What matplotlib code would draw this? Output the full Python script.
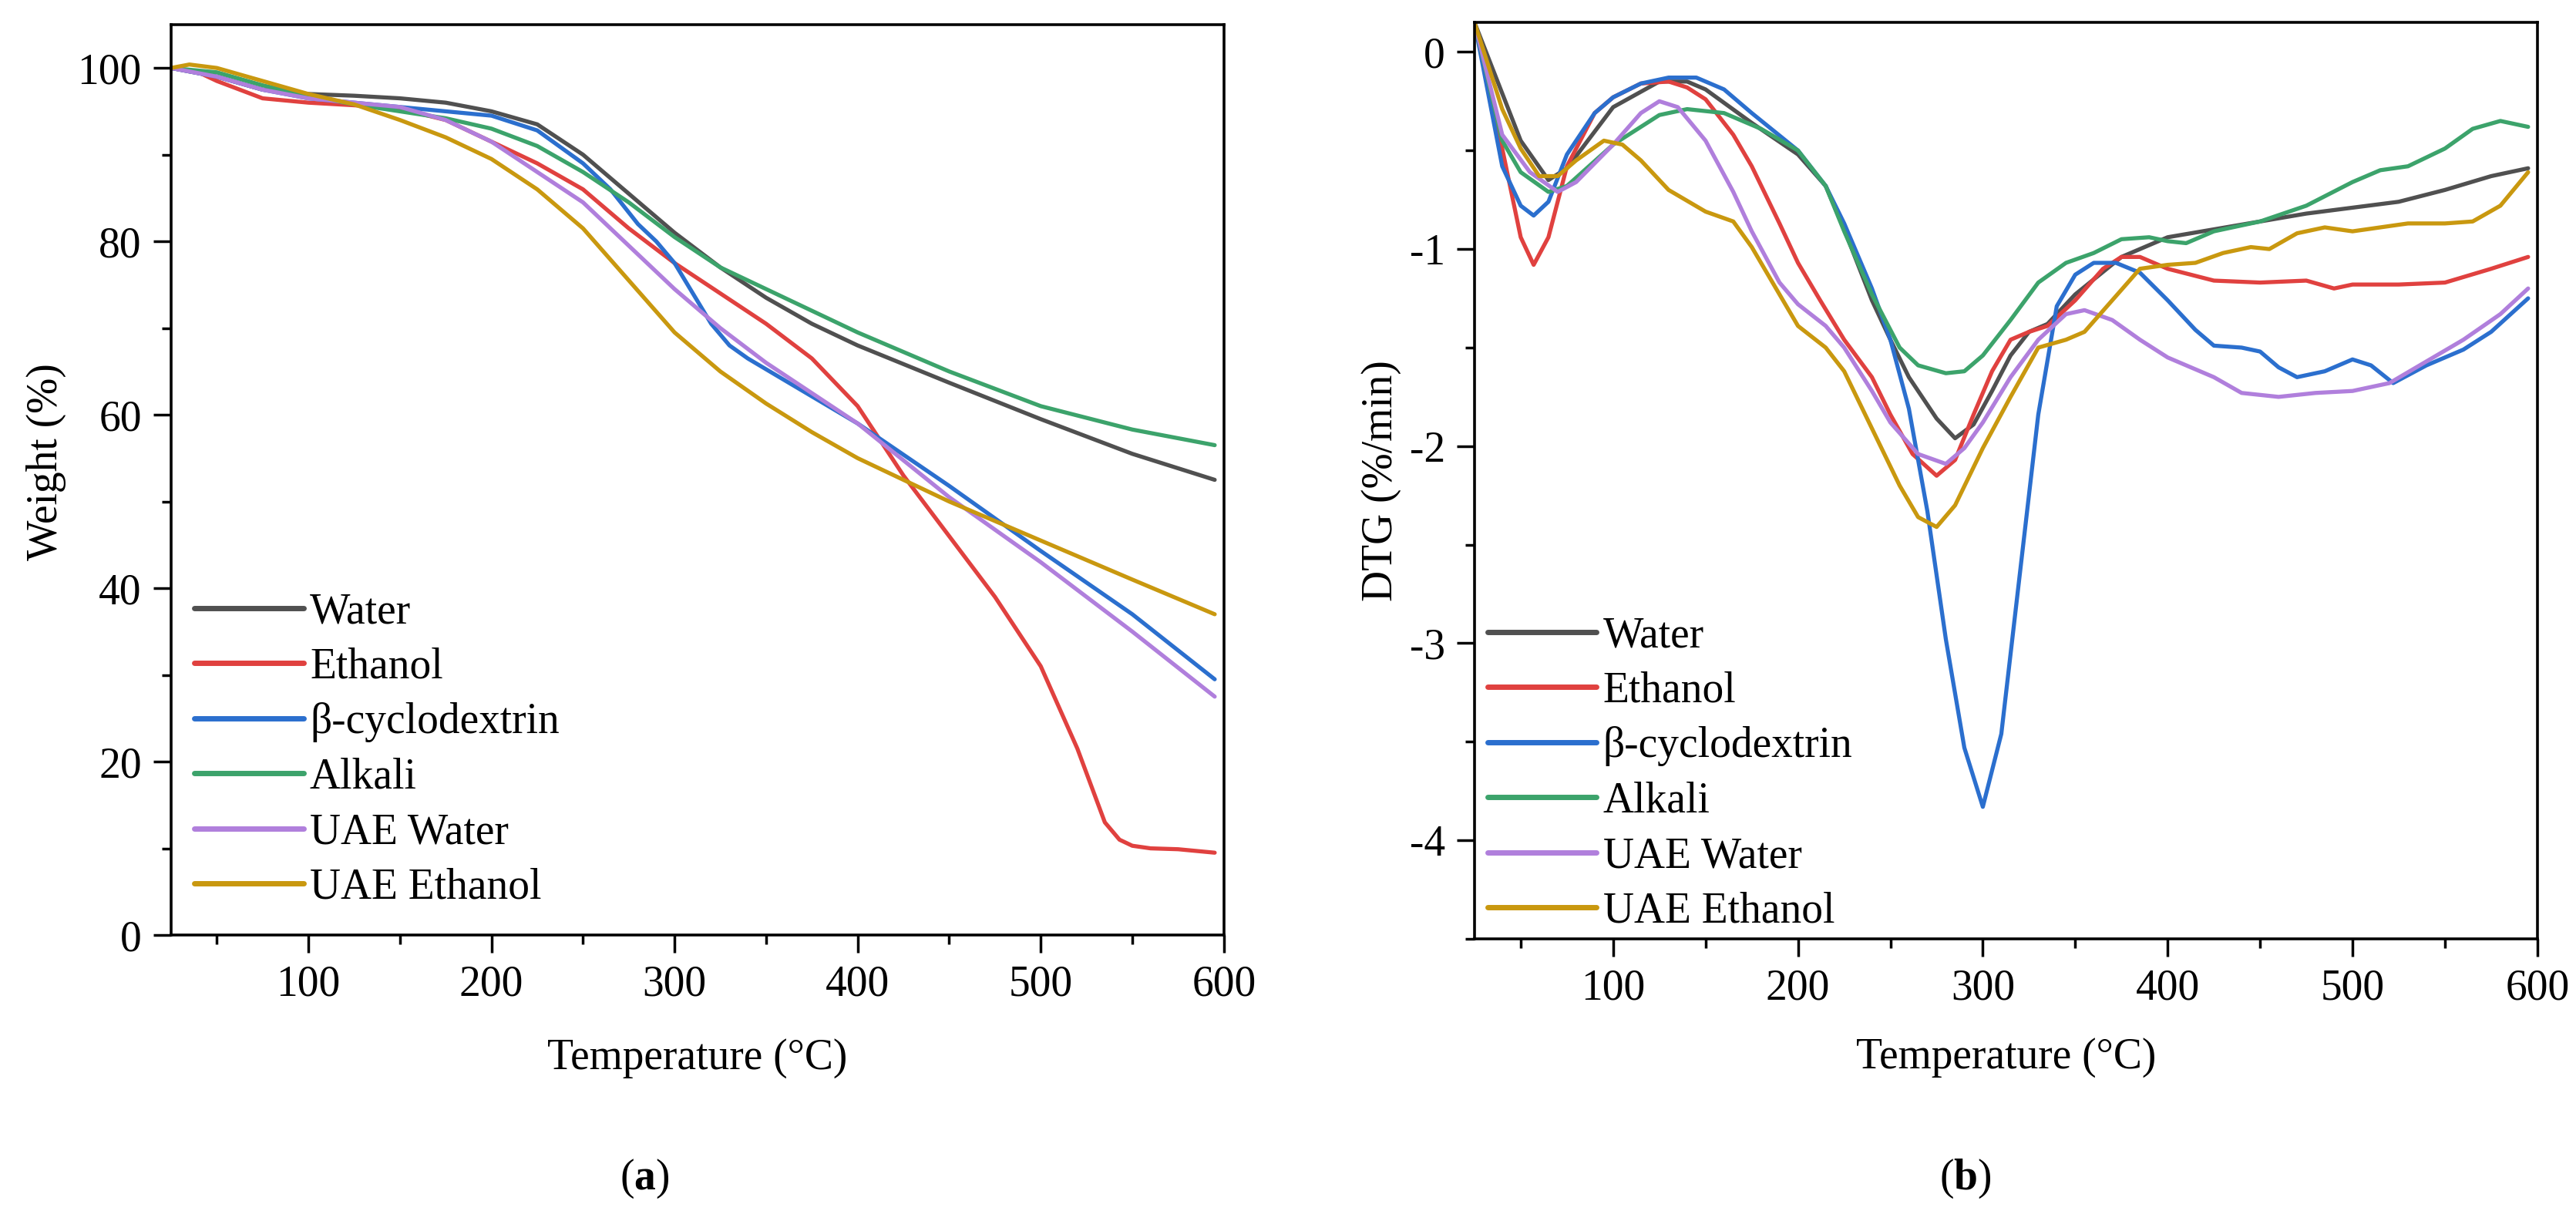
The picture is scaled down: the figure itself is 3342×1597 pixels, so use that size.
import matplotlib
matplotlib.use("Agg")
import matplotlib.pyplot as plt
from matplotlib.ticker import MultipleLocator

plt.rcParams['font.family'] = ['Liberation Serif', 'DejaVu Serif']
plt.rcParams['mathtext.fontset'] = 'custom'
plt.rcParams['mathtext.rm'] = 'Liberation Serif'
plt.rcParams['mathtext.bf'] = 'Liberation Serif:bold'
plt.rcParams['axes.unicode_minus'] = False

# series names and colours
names = ['Water', 'Ethanol', 'β-cyclodextrin', 'Alkali', 'UAE Water', 'UAE Ethanol']
colors = ['#505050', '#e0413f', '#2b6fce', '#3ca36b', '#b07fdc', '#c9980f']

# (a) TGA weight (%)
t_water = [25, 50, 75, 100, 125, 150, 175, 200, 225, 250, 275, 300, 325, 350, 375, 400, 450, 500, 550, 595]
w_water = [100, 99, 97.5, 97, 96.8, 96.5, 96, 95, 93.5, 90, 85.5, 81, 77, 73.5, 70.5, 68, 63.7, 59.5, 55.5, 52.5]

t_eth = [25, 40, 50, 75, 100, 125, 150, 175, 200, 225, 250, 275, 300, 325, 350, 375, 400, 425, 450, 475, 500,
         520, 535, 543, 550, 560, 575, 595]
w_eth = [100, 99.5, 98.5, 96.5, 96, 95.7, 95.3, 94, 91.5, 89, 86, 81.5, 77.5, 74, 70.5, 66.5, 61, 53, 46, 39, 31,
         21.5, 13, 11, 10.3, 10, 9.9, 9.5]

t_cd = [25, 50, 75, 100, 125, 150, 175, 200, 225, 250, 265, 280, 290, 300, 310, 320, 330, 340, 360, 380, 400,
        450, 500, 550, 595]
w_cd = [100, 99, 97.5, 96.5, 96, 95.5, 95, 94.5, 92.8, 89, 86, 82, 80, 77.5, 74, 70.5, 68, 66.5, 64, 61.5, 59,
        51.8, 44.3, 37, 29.5]

t_alk = [25, 50, 75, 100, 125, 150, 175, 200, 225, 250, 275, 300, 325, 350, 375, 400, 450, 500, 550, 595]
w_alk = [100, 99.5, 98, 96.8, 95.8, 95, 94.2, 93, 91, 88, 84.5, 80.5, 77, 74.5, 72, 69.5, 65, 61, 58.3, 56.5]

t_uw = [25, 50, 75, 100, 125, 150, 175, 200, 225, 250, 275, 300, 325, 350, 375, 400, 450, 500, 550, 595]
w_uw = [100, 99, 97.5, 96.5, 96, 95.5, 94, 91.5, 88, 84.5, 79.5, 74.5, 70, 66, 62.5, 59, 50.5, 43, 35, 27.5]

t_ue = [25, 35, 50, 75, 100, 125, 150, 175, 200, 225, 250, 275, 300, 325, 350, 375, 400, 450, 500, 550, 595]
w_ue = [100, 100.4, 100, 98.5, 97, 95.8, 94, 92, 89.5, 86, 81.5, 75.5, 69.5, 65, 61.3, 58, 55, 50, 45.5, 41, 37]

# (b) DTG (%/min)
d_t_water = [25, 50, 65, 75, 100, 125, 140, 150, 175, 200, 215, 225, 240, 250, 260, 275, 285, 295, 305, 315,
             325, 335, 350, 375, 400, 425, 450, 475, 500, 525, 550, 575, 595]
d_water = [0.15, -0.45, -0.65, -0.59, -0.28, -0.15, -0.15, -0.19, -0.36, -0.52, -0.68, -0.9, -1.26, -1.46, -1.65,
           -1.86, -1.96, -1.89, -1.72, -1.54, -1.42, -1.38, -1.23, -1.04, -0.94, -0.9, -0.86, -0.82, -0.79, -0.76,
           -0.7, -0.63, -0.59]

d_t_eth = [25, 40, 50, 57, 65, 75, 90, 100, 115, 130, 140, 150, 165, 175, 190, 200, 212, 225, 240, 250, 262, 275,
           285, 295, 305, 315, 325, 335, 350, 365, 375, 385, 400, 425, 450, 475, 490, 500, 525, 550, 575, 595]
d_eth = [0.15, -0.49, -0.94, -1.08, -0.94, -0.58, -0.31, -0.23, -0.16, -0.15, -0.18, -0.24, -0.42, -0.58, -0.87,
         -1.07, -1.26, -1.46, -1.65, -1.84, -2.04, -2.15, -2.07, -1.84, -1.62, -1.46, -1.42, -1.39, -1.26, -1.1,
         -1.04, -1.04, -1.1, -1.16, -1.17, -1.16, -1.2, -1.18, -1.18, -1.17, -1.1, -1.04]

d_t_cd = [25, 40, 50, 57, 65, 75, 90, 100, 115, 130, 145, 160, 175, 200, 215, 225, 240, 250, 260, 270, 280, 290,
          300, 310, 320, 330, 340, 350, 360, 372, 385, 400, 415, 425, 440, 450, 460, 470, 485, 500, 510, 522, 540,
          560, 575, 595]
d_cd = [0.15, -0.58, -0.78, -0.83, -0.76, -0.52, -0.31, -0.23, -0.16, -0.13, -0.13, -0.19, -0.31, -0.5, -0.68,
        -0.87, -1.2, -1.46, -1.81, -2.33, -2.98, -3.53, -3.83, -3.46, -2.65, -1.84, -1.29, -1.13, -1.07, -1.07,
        -1.12, -1.26, -1.41, -1.49, -1.5, -1.52, -1.6, -1.65, -1.62, -1.56, -1.59, -1.68, -1.59, -1.51, -1.42,
        -1.25]

d_t_alk = [25, 40, 50, 65, 75, 100, 125, 140, 160, 180, 200, 215, 225, 240, 255, 265, 280, 290, 300, 315, 330,
           345, 360, 375, 390, 400, 410, 425, 450, 475, 500, 515, 530, 550, 565, 580, 595]
d_alk = [0.15, -0.45, -0.61, -0.71, -0.68, -0.47, -0.32, -0.29, -0.31, -0.39, -0.5, -0.68, -0.91, -1.23, -1.5,
         -1.59, -1.63, -1.62, -1.54, -1.36, -1.17, -1.07, -1.02, -0.95, -0.94, -0.96, -0.97, -0.91, -0.86, -0.78,
         -0.66, -0.6, -0.58, -0.49, -0.39, -0.35, -0.38]

d_t_uw = [25, 40, 55, 70, 80, 100, 115, 125, 135, 150, 165, 175, 190, 200, 215, 225, 240, 250, 265, 280, 290,
          300, 315, 330, 345, 355, 370, 385, 400, 425, 440, 460, 480, 500, 520, 540, 560, 580, 595]
d_uw = [0.15, -0.42, -0.61, -0.71, -0.66, -0.47, -0.31, -0.25, -0.28, -0.45, -0.71, -0.91, -1.17, -1.28, -1.39,
        -1.5, -1.72, -1.88, -2.04, -2.09, -2.01, -1.88, -1.65, -1.46, -1.33, -1.31, -1.36, -1.46, -1.55, -1.65,
        -1.73, -1.75, -1.73, -1.72, -1.68, -1.57, -1.46, -1.33, -1.2]

d_t_ue = [25, 40, 50, 60, 70, 80, 95, 105, 115, 130, 150, 165, 175, 190, 200, 215, 225, 240, 255, 265, 275, 285,
          300, 315, 330, 345, 355, 370, 385, 400, 415, 430, 445, 455, 470, 485, 500, 515, 530, 550, 565, 580, 595]
d_ue = [0.15, -0.29, -0.49, -0.63, -0.63, -0.55, -0.45, -0.47, -0.55, -0.7, -0.81, -0.86, -0.99, -1.23, -1.39,
        -1.5, -1.62, -1.91, -2.2, -2.36, -2.41, -2.3, -2.01, -1.75, -1.5, -1.46, -1.42, -1.26, -1.1, -1.08, -1.07,
        -1.02, -0.99, -1.0, -0.92, -0.89, -0.91, -0.89, -0.87, -0.87, -0.86, -0.78, -0.61]

tga = [(t_water, w_water), (t_eth, w_eth), (t_cd, w_cd), (t_alk, w_alk), (t_uw, w_uw), (t_ue, w_ue)]
dtg = [(d_t_water, d_water), (d_t_eth, d_eth), (d_t_cd, d_cd), (d_t_alk, d_alk), (d_t_uw, d_uw), (d_t_ue, d_ue)]

FS = 40
fig = plt.figure(figsize=(33.42, 15.97), dpi=100)
ax1 = fig.add_axes([0.0664, 0.2404, 0.4087, 0.7396])
ax2 = fig.add_axes([0.5724, 0.2373, 0.4126, 0.7445])

for (x, y), c, n in zip(tga, colors, names):
    ax1.plot(x, y, color=c, lw=3.8, label=n, solid_joinstyle='round', solid_capstyle='round')
for (x, y), c, n in zip(dtg, colors, names):
    ax2.plot(x, y, color=c, lw=3.8, label=n, solid_joinstyle='round', solid_capstyle='round')

ax1.set_xlim(25, 600)
ax1.set_ylim(0, 105)
ax1.yaxis.set_major_locator(MultipleLocator(20))
ax1.yaxis.set_minor_locator(MultipleLocator(10))
ax1.set_ylabel('Weight (%)', fontsize=FS)

ax2.set_xlim(25, 600)
ax2.set_ylim(-4.5, 0.15)
ax2.yaxis.set_major_locator(MultipleLocator(1))
ax2.yaxis.set_minor_locator(MultipleLocator(0.5))
ax2.set_ylabel('DTG (%/min)', fontsize=FS)

for ax in (ax1, ax2):
    ax.xaxis.set_major_locator(MultipleLocator(100))
    ax.xaxis.set_minor_locator(MultipleLocator(50))
    ax.set_xlabel('Temperature (°C)', fontsize=FS)
    ax.tick_params(which='both', direction='out', top=False, right=False, width=2.5, labelsize=FS)
    ax.tick_params(which='major', length=16.5)
    ax.tick_params(which='minor', length=8.5)
    ax.tick_params(axis='x', pad=11)
    ax.tick_params(axis='y', pad=11)
    for s in ax.spines.values():
        s.set_linewidth(2.6)

ax1.yaxis.set_label_coords(-0.0995, 0.52)
ax2.yaxis.set_label_coords(-0.069, 0.5)
ax1.xaxis.set_label_coords(0.5, -0.113)
ax2.xaxis.set_label_coords(0.5, -0.108)

leg_kw = dict(loc='lower left', frameon=False, fontsize=FS, handlelength=2.55, handletextpad=0.15,
              labelspacing=0.35, borderpad=0, borderaxespad=0)
l1 = ax1.legend(bbox_to_anchor=(0.022, 0.030), **leg_kw)
l2 = ax2.legend(bbox_to_anchor=(0.012, 0.008), **leg_kw)
for leg in (l1, l2):
    for h in leg.legend_handles:
        h.set_linewidth(5)

fig.text(836 / 3342, 1 - 1529 / 1597, r'($\mathbf{a}$)', fontsize=FS, ha='center', va='center')
fig.text(2550 / 3342, 1 - 1529 / 1597, r'($\mathbf{b}$)', fontsize=FS, ha='center', va='center')

fig.savefig('out.png', dpi=100)
